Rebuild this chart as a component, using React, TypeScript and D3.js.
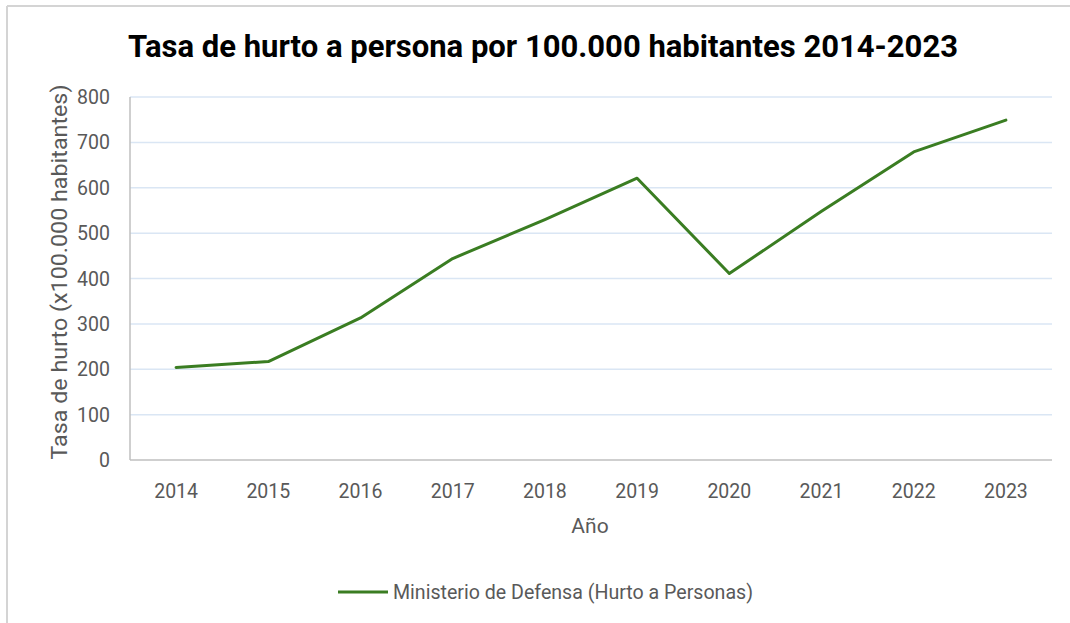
import React from "react";
import * as d3 from "d3";

const years = ["2014", "2015", "2016", "2017", "2018", "2019", "2020", "2021", "2022", "2023"];
const values = [204, 217, 313, 444, 530, 621, 411, 548, 679, 749];
const yTicks = [0, 100, 200, 300, 400, 500, 600, 700, 800];
const seriesName = "Ministerio de Defensa (Hurto a Personas)";
const title = "Tasa de hurto a persona por 100.000 habitantes 2014-2023";
const yTitle = "Tasa de hurto (x100.000 habitantes)";
const xTitle = "Año";

const W = 1070, H = 623;
const left = 130, right = 1052, top = 97, bottom = 460;
const font = "Roboto, 'Open Sans', sans-serif";
const textColor = "#595959";

export default function App() {
  const x = d3.scaleBand().domain(years).range([left, right]);
  const y = d3.scaleLinear().domain([0, 800]).range([bottom, top]);
  const line = d3
    .line<number>()
    .x((_, i) => (x(years[i]) as number) + x.bandwidth() / 2)
    .y((d) => y(d));

  return (
    <svg width={W} height={H} style={{ position: "absolute", left: 0, top: 0, background: "#fff" }}>
      <rect x={0} y={0} width={W} height={H} fill="#fff" />
      <line x1={7} x2={W} y1={6} y2={6} stroke="#d4d4d4" strokeWidth={2} />
      <line x1={7} x2={7} y1={6} y2={H} stroke="#d4d4d4" strokeWidth={2} />
      <text x={543} y={57} textAnchor="middle" fontFamily={font} fontWeight="bold" fontSize={31} fill="#000" textLength={830} lengthAdjust="spacingAndGlyphs">
        {title}
      </text>
      {yTicks.map((t) => (
        <g key={t}>
          {t > 0 && (
            <line x1={left} x2={right} y1={y(t)} y2={y(t)} stroke="#dae6f4" strokeWidth={1.5} />
          )}
          <text x={110} y={y(t) + 7} textAnchor="end" fontFamily={font} fontSize={19.5} fill={textColor}>
            {t}
          </text>
        </g>
      ))}
      <line x1={left} x2={left} y1={top} y2={bottom} stroke="#bfbfbf" strokeWidth={1.5} />
      <line x1={left} x2={right} y1={bottom} y2={bottom} stroke="#bfbfbf" strokeWidth={1.5} />
      {years.map((yr) => (
        <text
          key={yr}
          x={(x(yr) as number) + x.bandwidth() / 2}
          y={498}
          textAnchor="middle"
          fontFamily={font}
          fontSize={19.5}
          fill={textColor}
        >
          {yr}
        </text>
      ))}
      <path d={line(values) || ""} fill="none" stroke="#3a7d22" strokeWidth={3} strokeLinejoin="round" strokeLinecap="round" />
      <text
        transform={`translate(67,272) rotate(-90)`}
        textAnchor="middle"
        fontFamily={font}
        fontSize={22}
        fill={textColor}
        textLength={375}
        lengthAdjust="spacingAndGlyphs"
      >
        {yTitle}
      </text>
      <text x={590} y={533} textAnchor="middle" fontFamily={font} fontSize={21} fill={textColor}>
        {xTitle}
      </text>
      <line x1={338} x2={388} y1={592} y2={592} stroke="#3a7d22" strokeWidth={3} />
      <text x={393} y={599} fontFamily={font} fontSize={19.5} fill={textColor} textLength={360} lengthAdjust="spacingAndGlyphs">
        {seriesName}
      </text>
    </svg>
  );
}
